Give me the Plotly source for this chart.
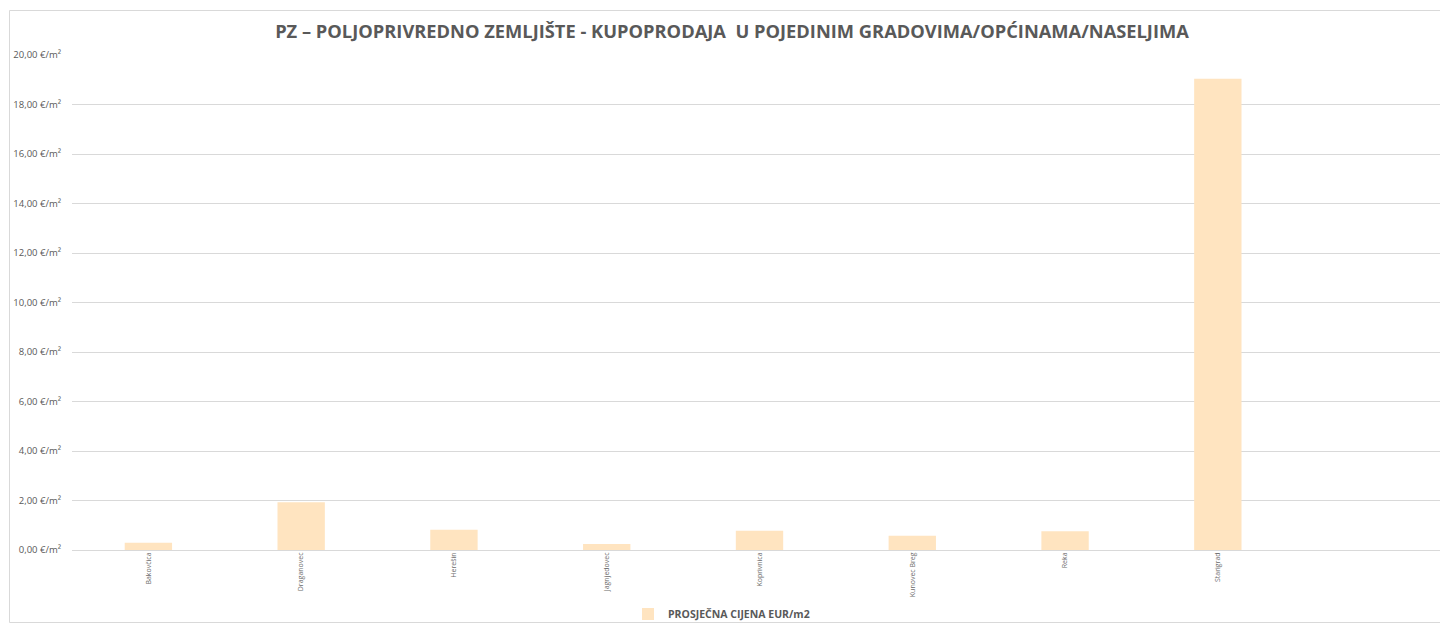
import plotly.graph_objects as go

categories = ["Bakovčica", "Draganovec", "Herešin", "Jagnjedovec", "Koprivnica",
              "Kunovec Breg", "Reka", "Starigrad"]
values = [0.29, 1.93, 0.82, 0.24, 0.78, 0.58, 0.76, 19.04]
series_name = "PROSJEČNA CIJENA EUR/m2"
title_text = "PZ – POLJOPRIVREDNO ZEMLJIŠTE - KUPOPRODAJA  U POJEDINIM GRADOVIMA/OPĆINAMA/NASELJIMA"

# page is offset by the default 8px body margin
OFF = 8
W, H = 1448 - OFF, 623 - OFF
ML, MR, MT, MB = 72 - OFF, 1, 55 - OFF, 73
PW, PH = W - ML - MR, H - MT - MB

def px_x(p):
    return (p - OFF - ML) / PW

def px_y(p):
    return (H - MB - (p - OFF)) / PH

fig = go.Figure()
fig.add_trace(go.Bar(
    x=categories, y=values, name="<b>" + series_name + "</b>",
    marker=dict(color="#FFE4C0", line=dict(width=0)),
    width=0.31, showlegend=True,
))

fig.update_layout(
    width=W, height=H,
    margin=dict(l=ML, r=MR, t=MT, b=MB, autoexpand=False),
    paper_bgcolor="white", plot_bgcolor="white",
    separators=",.",
    font=dict(family="Open Sans", color="#595959"),
    title=dict(text="<b>" + title_text + "</b>", x=(732 - OFF) / W, xanchor="center",
               y=1 - (32 - OFF) / H, yanchor="middle", yref="container",
               font=dict(size=18.3, color="#595959", family="Open Sans")),
    xaxis=dict(type="category", range=[-0.5, 8.5], tickangle=-90,
               tickfont=dict(size=7, color="#6b6b6b"), showgrid=False,
               showline=False, ticks="", zeroline=False, automargin=False),
    yaxis=dict(range=[0, 20], dtick=2, tickformat=".2f", ticksuffix=" €/m²",
               tickfont=dict(size=9.5, color="#595959"), showgrid=True,
               gridcolor="#D9D9D9", gridwidth=1, zeroline=True,
               zerolinecolor="#D9D9D9", zerolinewidth=1, ticks="",
               ticklabelstandoff=10, showline=False, automargin=False),
    legend=dict(orientation="h", x=px_x(628), xanchor="left",
                y=(H - (614 - OFF)) / H, yref="container",
                yanchor="middle", font=dict(size=10.5, color="#595959"),
                itemwidth=30, bgcolor="rgba(0,0,0,0)"),
    shapes=[dict(type="rect", xref="paper", yref="paper",
                 x0=px_x(9.5), x1=px_x(1447.5), y0=px_y(622.5), y1=px_y(10.5),
                 line=dict(color="#D9D9D9", width=1), fillcolor="rgba(0,0,0,0)",
                 layer="below")],
)
fig.write_html("out.html")
